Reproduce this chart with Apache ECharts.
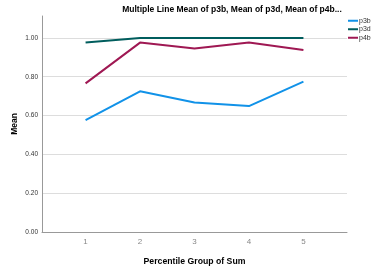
<!DOCTYPE html>
<html><head><meta charset="utf-8">
<script src="https://cdn.jsdelivr.net/npm/echarts@6/dist/echarts.min.js"></script>
<style>html,body{margin:0;padding:0;background:#fff}#c{width:373px;height:268px}</style>
</head><body><div id="c"></div>
<script>
const groups = [1, 2, 3, 4, 5];
const p3b = [0.577, 0.725, 0.667, 0.649, 0.775];
const p3d = [0.976, 1.0, 1.0, 1.0, 1.0];
const p4b = [0.766, 0.976, 0.945, 0.976, 0.938];
const yTicks = [0, 0.2, 0.4, 0.6, 0.8, 1.0];
const seriesNames = ['p3b', 'p3d', 'p4b'];
const colors = ['#1192e8', '#005d5d', '#9f1853'];
const F = 'Liberation Sans, Arial, sans-serif';
const chart = echarts.init(document.getElementById('c'), null, {renderer: 'canvas'});
const mk = (name, vals, i) => ({
  name, type: 'line', symbol: 'none', color: colors[i],
  lineStyle: {width: 2, color: colors[i]},
  data: groups.map((g, k) => [g, vals[k]])
});
chart.setOption({
  animation: false,
  title: {text: 'Multiple Line Mean of p3b, Mean of p3d, Mean of p4b...', left: 232, textAlign: 'center', top: 5, padding: 0,
    textStyle: {fontFamily: F, fontSize: 8.5, fontWeight: 'bold', color: '#000'}},
  legend: {left: 348, top: 16.5, padding: 0, orient: 'vertical', itemWidth: 10, itemHeight: 2, itemGap: 0,
    icon: 'rect', textStyle: {fontFamily: F, fontSize: 7, lineHeight: 8.5, color: '#333', padding: [0,0,0,-4]}, data: seriesNames},
  grid: {left: 42, right: 26, top: 16, bottom: 36, containLabel: false, outerBoundsMode: 'none'},
  xAxis: {type: 'value', min: 0.2, max: 5.8, name: 'Percentile Group of Sum', nameLocation: 'middle', nameGap: 25,
    nameMoveOverlap: false,
    nameTextStyle: {fontFamily: F, fontSize: 8.7, fontWeight: 'bold', color: '#000'},
    axisLine: {lineStyle: {color: '#999', width: 1}}, axisTick: {show: false}, splitLine: {show: false},
    axisLabel: {customValues: groups, fontFamily: F, fontSize: 8, color: '#888', margin: 6}},
  yAxis: {type: 'value', min: 0, max: 1.113, interval: 0.2, name: 'Mean', nameLocation: 'middle', nameGap: 23,
    nameMoveOverlap: false,
    nameTextStyle: {fontFamily: F, fontSize: 8.5, fontWeight: 'bold', color: '#000'},
    axisLine: {show: true, lineStyle: {color: '#999', width: 1}}, axisTick: {show: false},
    splitLine: {showMaxLine: false, lineStyle: {color: '#ddd', width: 1}},
    axisLabel: {customValues: yTicks, formatter: v => v.toFixed(2), fontFamily: F, fontSize: 6.5, color: '#333', margin: 4}},
  series: [mk('p3b', p3b, 0), mk('p3d', p3d, 1), mk('p4b', p4b, 2)]
});
</script></body></html>
